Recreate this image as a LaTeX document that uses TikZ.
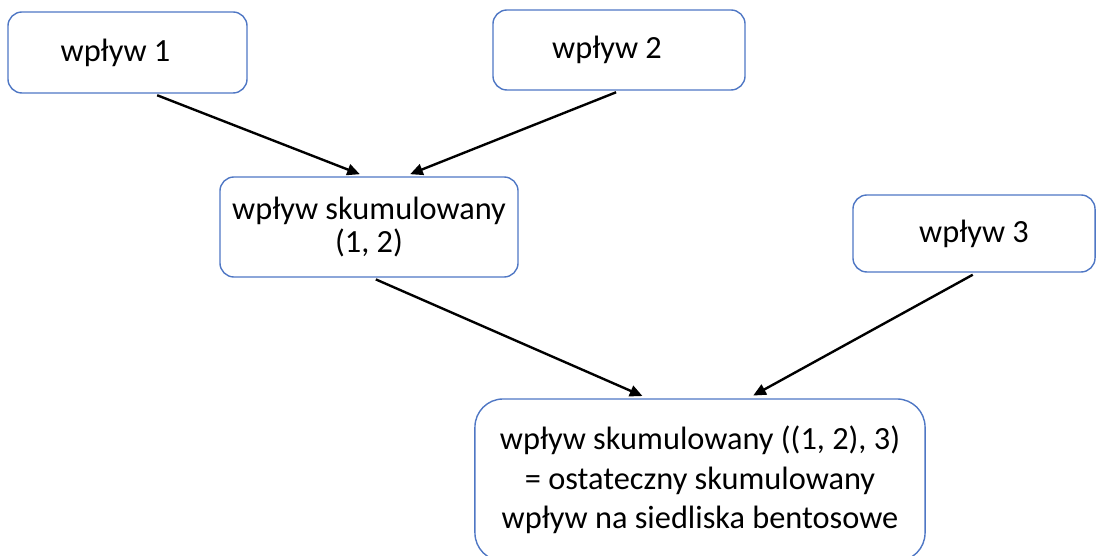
\documentclass[tikz,border=0pt]{standalone}
\usepackage{fontspec}
\setmainfont{Carlito}
\usetikzlibrary{arrows.meta,calc}
\definecolor{boxblue}{RGB}{79,119,196}

\begin{document}
\begin{tikzpicture}[
    x=0.025cm, y=-0.025cm, % 1 Einheit = 1 Pixel
    every node/.style={font=\fontsize{23}{28}\selectfont}, % Schrift der Knoten
    effect/.style={draw=boxblue, line width=1pt, rounded corners=10pt, align=center, inner sep=0pt}, % Stil der Kaesten
    link/.style={-{Triangle[length=9pt, width=8pt]}, line width=1.7pt, shorten <=3pt, shorten >=4pt} % Stil der Pfeile
]
\useasboundingbox (0,0) rectangle (1097,556);

% einzelne Wirkungen
\node[effect, minimum width=5.975cm, minimum height=2.025cm] (w1) at (127.5,52.5) {wpływ 1\hspace*{0.6cm}};
\node[effect, minimum width=6.3cm, minimum height=2cm] (w2) at (619,50) {wpływ 2\hspace*{0.6cm}};
\node[effect, minimum width=6.05cm, minimum height=1.925cm] (w3) at (974,233.5) {wpływ 3};

% kumulierte Wirkungen
\node[effect, minimum width=7.45cm, minimum height=2.5cm,
      font=\fontsize{23}{23.5}\selectfont] (w12) at (369,227) {wpływ skumulowany\\(1, 2)};
\node[effect, rounded corners=20pt, minimum width=11.25cm, minimum height=4.05cm] (final) at (700,480)
      {wpływ skumulowany ((1, 2), 3)\\= ostateczny skumulowany\\wpływ na siedliska bentosowe};

% Pfeile
\draw[link] ($(w1.south west)!0.607!(w1.south east)$) -- ($(w12.north west)!0.487!(w12.north east)$);
\draw[link] ($(w2.south west)!0.504!(w2.south east)$) -- ($(w12.north west)!0.62!(w12.north east)$);
\draw[link] ($(w12.south west)!0.51!(w12.south east)$) -- ($(final.north west)!0.384!(final.north east)$);
\draw[link] ($(w3.south west)!0.51!(w3.south east)$) -- ($(final.north west)!0.607!(final.north east)$);

\end{tikzpicture}
\end{document}
